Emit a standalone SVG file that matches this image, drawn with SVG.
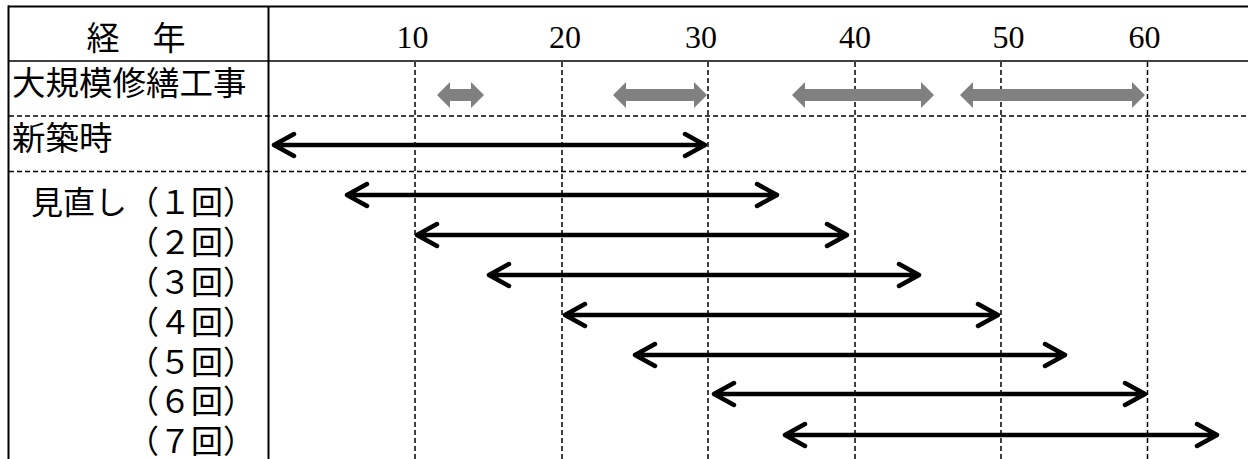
<svg xmlns="http://www.w3.org/2000/svg" width="1248" height="459" viewBox="0 0 1248 459">
<style>
.bg{fill:#ffffff}
.solid{stroke:#000;fill:none}
.dash{stroke:#000;stroke-width:1.5;stroke-dasharray:5 3;fill:none}
.jp{font-family:"Noto Sans CJK JP","Noto Sans CJK SC",sans-serif;fill:#000}
.num{font-family:"Liberation Serif","DejaVu Serif",serif;font-size:32px;fill:#000;text-anchor:middle}
.gray{fill:#808080}
.arr{stroke:#000;stroke-width:4.5;fill:none;stroke-linecap:round;stroke-linejoin:round}
</style>
<rect class="bg" x="0" y="0" width="1248" height="459"/>
<g id="grid">
  <line class="solid" x1="8" y1="6.5" x2="1248" y2="6.5" stroke-width="2"/>
  <line class="solid" x1="8" y1="61" x2="1248" y2="61" stroke-width="1.6"/>
  <line class="solid" x1="8.5" y1="5.5" x2="8.5" y2="459" stroke-width="2"/>
  <line class="solid" x1="268.5" y1="6" x2="268.5" y2="459" stroke-width="2"/>
  <line class="dash" x1="9" y1="116" x2="1248" y2="116"/>
  <line class="dash" x1="9" y1="171.5" x2="1248" y2="171.5"/>
  <line class="dash" x1="415" y1="62" x2="415" y2="459"/>
  <line class="dash" x1="562" y1="62" x2="562" y2="459"/>
  <line class="dash" x1="708" y1="62" x2="708" y2="459"/>
  <line class="dash" x1="855" y1="62" x2="855" y2="459"/>
  <line class="dash" x1="1001" y1="62" x2="1001" y2="459"/>
  <line class="dash" x1="1147.5" y1="62" x2="1147.5" y2="459"/>
</g>
<g id="header">
  <text class="jp" x="136" y="50" font-size="33" text-anchor="middle">経　年</text>
  <text class="num" x="412.5" y="48">10</text>
  <text class="num" x="565" y="48">20</text>
  <text class="num" x="701" y="48">30</text>
  <text class="num" x="855" y="48">40</text>
  <text class="num" x="1008.5" y="48">50</text>
  <text class="num" x="1144.5" y="48">60</text>
</g>
<g id="row-repair">
  <text class="jp" x="12" y="95" font-size="33.5">大規模修繕工事</text>
</g>
<g id="row-new">
  <text class="jp" x="12" y="150" font-size="33.5">新築時</text>
</g>
<g id="row-review">
  <text class="jp" x="31" y="214" font-size="32">見直し（１回）</text>
  <text class="jp" x="127" y="254" font-size="32">（２回）</text>
  <text class="jp" x="127" y="294" font-size="32">（３回）</text>
  <text class="jp" x="127" y="334" font-size="32">（４回）</text>
  <text class="jp" x="127" y="374" font-size="32">（５回）</text>
  <text class="jp" x="127" y="413" font-size="32">（６回）</text>
  <text class="jp" x="127" y="453" font-size="32">（７回）</text>
</g>
<g id="connectors">
  <polygon class="gray" points="437,95 450,82 450,89 471,89 471,82 484,95 471,108 471,101 450,101 450,108"/>
  <polygon class="gray" points="613,95 626,82 626,89 694,89 694,82 707,95 694,108 694,101 626,101 626,108"/>
  <polygon class="gray" points="792,95 805,82 805,89 921,89 921,82 934,95 921,108 921,101 805,101 805,108"/>
  <polygon class="gray" points="960,95 973,82 973,89 1132,89 1132,82 1145,95 1132,108 1132,101 973,101 973,108"/>
  <path class="arr" d="M294,134 L274,145 L294,156 M274,145 L705,145 M685,134 L705,145 L685,156"/>
  <path class="arr" d="M367,184 L347,195 L367,206 M347,195 L777,195 M757,184 L777,195 L757,206"/>
  <path class="arr" d="M437,224 L417,235 L437,246 M417,235 L847,235 M827,224 L847,235 L827,246"/>
  <path class="arr" d="M509,264 L489,275 L509,286 M489,275 L919,275 M899,264 L919,275 L899,286"/>
  <path class="arr" d="M585,304 L565,315 L585,326 M565,315 L998,315 M978,304 L998,315 L978,326"/>
  <path class="arr" d="M655,344 L635,355 L655,366 M635,355 L1065,355 M1045,344 L1065,355 L1045,366"/>
  <path class="arr" d="M734,383 L714,394 L734,405 M714,394 L1145,394 M1125,383 L1145,394 L1125,405"/>
  <path class="arr" d="M805,424 L785,435 L805,446 M785,435 L1217,435 M1197,424 L1217,435 L1197,446"/>
</g>
</svg>
